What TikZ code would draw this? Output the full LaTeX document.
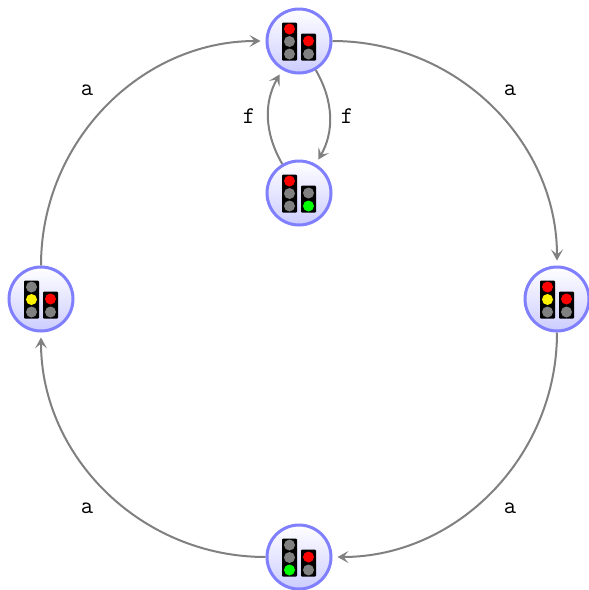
\documentclass[tikz,border=0pt]{standalone}
\usetikzlibrary{arrows.meta}
\definecolor{rim}{RGB}{128,128,255}
\definecolor{lampoff}{RGB}{128,128,128}
\tikzset{
  >={Stealth[length=11pt,width=12pt,inset=5pt]},
  state/.style={circle,draw=rim,line width=3pt,top color=white,bottom color=blue!20,
    minimum size=64pt,inner sep=0pt},
  flow/.style={->,line width=2pt,draw=lampoff,shorten >=5pt},
  tag/.style={font=\fontsize{24}{28}\selectfont\ttfamily,inner sep=0pt},
  % pictograms
  pics/signal/.style n args={5}{code={
    \fill[black,rounded corners=1pt] (-17,-18.5) rectangle (-2,19.5);
    \fill[black,rounded corners=1pt] (2,-7.5) rectangle (17,19.5);
    \fill[#1] (-9.5,-12) circle (5.5);
    \fill[#2] (-9.5,0.5) circle (5.5);
    \fill[#3] (-9.5,13) circle (5.5);
    \fill[#4] (9.5,0) circle (5.5);
    \fill[#5] (9.5,13) circle (5.5);
  }},
}
\begin{document}
\begin{tikzpicture}[x=1pt,y=-1pt]
  \useasboundingbox (0,0) rectangle (589,590);
  \node[state] (redred) at (299,41) {};
  \node[state] (redgreen) at (299,193) {};
  \node[state] (redyellow) at (557,299) {};
  \node[state] (greenred) at (299,557) {};
  \node[state] (yellowred) at (41,299) {};
  \pic at (redred) {signal={red}{lampoff}{lampoff}{red}{lampoff}};
  \pic at (redgreen) {signal={red}{lampoff}{lampoff}{lampoff}{green}};
  \pic at (redyellow) {signal={red}{yellow}{lampoff}{red}{lampoff}};
  \pic at (greenred) {signal={lampoff}{lampoff}{green}{red}{lampoff}};
  \pic at (yellowred) {signal={lampoff}{yellow}{lampoff}{red}{lampoff}};
  \draw[flow] (redred) to[bend left=45] (redyellow);
  \draw[flow] (redyellow) to[bend left=45] (greenred);
  \draw[flow] (greenred) to[bend left=45] (yellowred);
  \draw[flow] (yellowred) to[bend left=45] (redred);
  \draw[flow] (redred) to[bend left=30] (redgreen);
  \draw[flow] (redgreen) to[bend left=30] (redred);
  \node[tag] (a1) at (510,90) {a};
  \node[tag] (a2) at (510,508) {a};
  \node[tag] (a3) at (87,508) {a};
  \node[tag] (a4) at (87,90) {a};
  \node[tag] (f1) at (347,116.5) {f};
  \node[tag] (f2) at (249,116.5) {f};
\end{tikzpicture}
\end{document}
